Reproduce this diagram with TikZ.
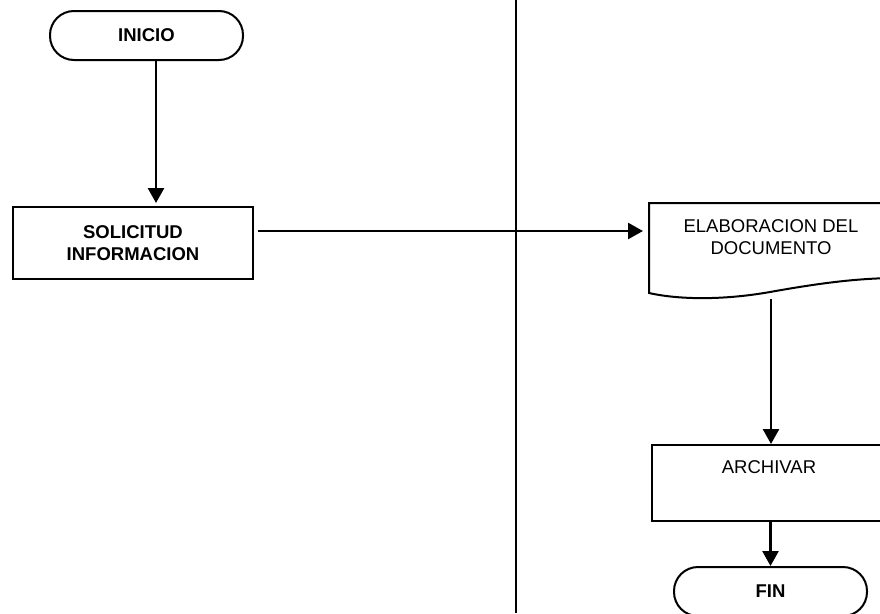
\documentclass[tikz,border=0pt]{standalone}
\usepackage{fontspec}
\setmainfont{Liberation Sans}
\usetikzlibrary{arrows.meta}
\begin{document}
\begin{tikzpicture}[x=1pt,y=-1pt, line width=2pt,
 every node/.style={font=\fontsize{18.5}{22}\selectfont, inner sep=0pt},
 term/.style={draw, rectangle, rounded corners=24pt, minimum width=193pt, minimum height=49pt, font=\bfseries\fontsize{18.5}{22}\selectfont},
 procbox/.style={draw, rectangle, anchor=north west},
 lbl/.style={align=center},
 arr/.style={-{Triangle[length=15pt,width=16pt]}, line width=2.6pt}]
\useasboundingbox (0,0) rectangle (880,613);
\clip (0,0) rectangle (880,613);
\fill[white] (0,0) rectangle (880,613);
% divider
\coordinate (dtop) at (515.7,0);
\coordinate (dbot) at (515.7,613);
\draw[line width=2.2pt] (dtop) -- (dbot);
% nodes
\node[term] (inicio) at (146.5,35.5) {INICIO};
\node[procbox, minimum width=240pt, minimum height=72pt, align=center, font=\bfseries\fontsize{18.5}{22.5}\selectfont] (sol) at (12,206) {SOLICITUD\\INFORMACION};
\node[minimum width=241pt, minimum height=90pt, anchor=north west] (doc) at (649,203) {};
\draw (649,293) -- (649,203) -- (890,203) -- (890,278)
      .. controls (850,279) and (815,284) .. (770,292)
      .. controls (725,300) and (680,300) .. (649,293) -- cycle;
\node[lbl] (doctext) at (771,237) {ELABORACION DEL\\DOCUMENTO};
\node[procbox, minimum width=240pt, minimum height=76pt] (arch) at (651,444) {};
\node (archtext) at (769,467) {ARCHIVAR};
\node[term] (fin) at (770.5,591.5) {FIN};
\coordinate (docout) at (771,299);
% connectors
\draw[arr, shorten >=3pt] ([xshift=9.5pt]inicio.south) -- ([xshift=9.5pt]inicio.south |- sol.north);
\draw[arr, shorten <=4pt, shorten >=6pt] ([yshift=12pt]sol.east) -- ([yshift=12pt]sol.east -| doc.west);
\draw[arr] (docout) -- (docout |- arch.north);
\draw[arr] (fin.north |- arch.south) -- (fin.north);
\end{tikzpicture}
\end{document}
